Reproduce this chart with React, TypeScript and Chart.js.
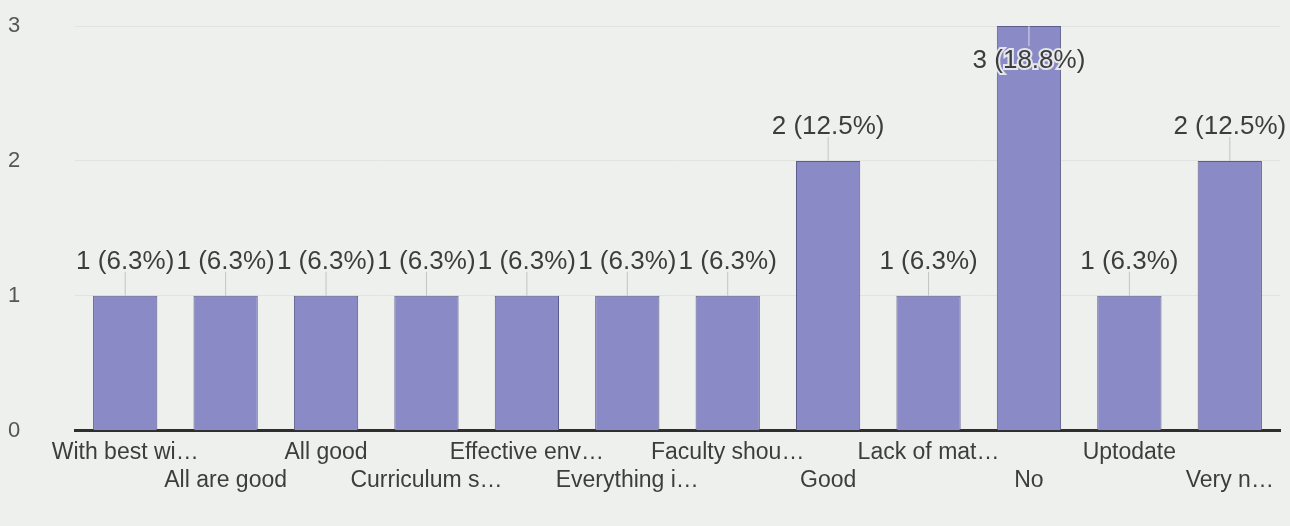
import React, { useEffect, useRef } from "react";
import { Chart, registerables } from "chart.js";

Chart.register(...registerables);

const categories = [
  "With best wi…",
  "All are good",
  "All good",
  "Curriculum s…",
  "Effective env…",
  "Everything i…",
  "Faculty shou…",
  "Good",
  "Lack of mat…",
  "No",
  "Uptodate",
  "Very n…",
];
const counts = [1, 1, 1, 1, 1, 1, 1, 2, 1, 3, 1, 2];
const percents = ["6.3%", "6.3%", "6.3%", "6.3%", "6.3%", "6.3%", "6.3%", "12.5%", "6.3%", "18.8%", "6.3%", "12.5%"];
const yTicks = [0, 1, 2, 3];

const FONT = "'Liberation Sans', Arial, sans-serif";
const TEXT = "#3d3d3d";

const labelPlugin = {
  id: "barLabels",
  afterDatasetsDraw(chart: any) {
    const ctx = chart.ctx;
    const meta = chart.getDatasetMeta(0);
    const area = chart.chartArea;
    ctx.save();
    ctx.font = `26px ${FONT}`;
    ctx.textAlign = "center";
    ctx.textBaseline = "alphabetic";
    meta.data.forEach((bar: any, i: number) => {
      const top = bar.y;
      const text = `${counts[i]} (${percents[i]})`;
      let base = top - 27;
      const inside = base - 20 < area.top - 18;
      if (inside) base = top + 42;
      ctx.strokeStyle = inside ? "rgba(255,255,255,0.7)" : "#c4c4c4";
      ctx.lineWidth = 1;
      ctx.beginPath();
      if (inside) {
        ctx.moveTo(bar.x, top);
        ctx.lineTo(bar.x, base - 22);
      } else {
        ctx.moveTo(bar.x, base + 3);
        ctx.lineTo(bar.x, top);
      }
      ctx.stroke();
      if (inside) {
        ctx.lineWidth = 4;
        ctx.strokeStyle = "rgba(238,240,238,0.9)";
        ctx.strokeText(text, bar.x, base);
      }
      ctx.fillStyle = TEXT;
      ctx.fillText(text, bar.x, base);
    });
    ctx.restore();
  },
};

const bgPlugin = {
  id: "bg",
  beforeDraw(chart: any) {
    const ctx = chart.ctx;
    ctx.save();
    ctx.fillStyle = "#eef0ee";
    ctx.fillRect(0, 0, chart.width, chart.height);
    ctx.restore();
  },
};

export default function App() {
  const ref = useRef<HTMLCanvasElement | null>(null);
  useEffect(() => {
    if (!ref.current) return;
    const labels = categories.map((c, i) => (i % 2 === 0 ? c : ["", c]));
    const chart = new Chart(ref.current, {
      type: "bar",
      data: {
        labels,
        datasets: [
          {
            data: counts,
            backgroundColor: "#8a8ac6",
            borderColor: "#5c5c8c",
            borderWidth: 1,
            categoryPercentage: 1,
            barPercentage: 0.64,
          },
        ],
      },
      plugins: [bgPlugin, labelPlugin],
      options: {
        animation: false,
        responsive: false,
        maintainAspectRatio: false,
        layout: { padding: { top: 26, right: 10, bottom: 24, left: 8 } },
        plugins: {
          legend: { display: false },
          tooltip: { enabled: false },
        },
        scales: {
          x: {
            grid: { display: false, drawTicks: false },
            border: { display: true, color: "#2e2e2e", width: 3 },
            ticks: {
              autoSkip: false,
              maxRotation: 0,
              minRotation: 0,
              color: TEXT,
              padding: 8,
              font: { family: FONT, size: 23 },
            },
          },
          y: {
            min: 0,
            max: 3,
            afterBuildTicks(scale: any) {
              scale.ticks = yTicks.map((v) => ({ value: v }));
            },
            afterFit(scale: any) {
              scale.width = 67;
            },
            grid: { color: "rgba(0,0,0,0.05)", drawTicks: false },
            border: { display: false },
            ticks: {
              color: "#555",
              crossAlign: "far",
              padding: 0,
              font: { family: FONT, size: 22 },
            },
          },
        },
      },
    });
    return () => chart.destroy();
  }, []);
  return (
    <div style={{ position: "fixed", left: 0, top: 0, width: 1290, height: 526, background: "#eef0ee" }}>
      <canvas ref={ref} width={1290} height={526} style={{ display: "block" }} />
    </div>
  );
}
